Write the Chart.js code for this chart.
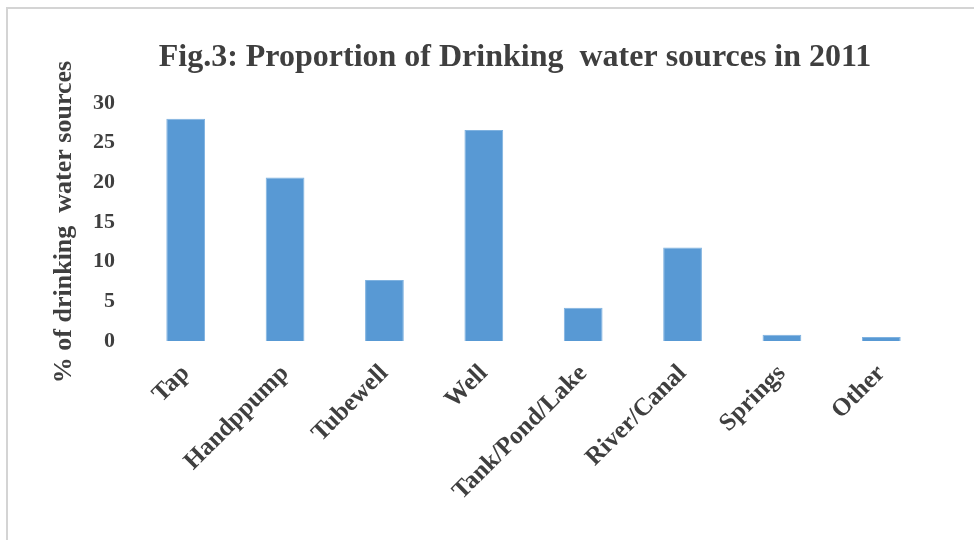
<!DOCTYPE html>
<html lang="en">
<head>
    <meta charset="UTF-8">
    <title>Fig.3 - Drinking water sources</title>
    <script src="https://cdn.jsdelivr.net/npm/chart.js"></script>
    <style>
        body {
            margin: 0;
            padding: 0;
            background-color: #fff;
        }

        .frame {
            position: absolute;
            left: 6px;
            top: 7px;
            width: 968px;
            height: 533px;
            border-top: 2px solid #d4d4d4;
            border-left: 2px solid #d4d4d4;
        }

        .chart-wrapper {
            position: absolute;
            left: 0;
            top: 0;
            width: 974px;
            height: 540px;
        }
    </style>
</head>
<body>
    <div class="frame"></div>
    <div class="chart-wrapper">
        <canvas id="main-chart"></canvas>
    </div>

    <script>
        // Dados do gráfico
        const categories = ['Tap', 'Handppump', 'Tubewell', 'Well', 'Tank/Pond/Lake', 'River/Canal', 'Springs', 'Other'];
        const shares = [28.0, 20.6, 7.7, 26.6, 4.2, 11.8, 0.8, 0.5];
        const yTicks = [0, 5, 10, 15, 20, 25, 30];
        const chartTitle = 'Fig.3: Proportion of Drinking  water sources in 2011';

        const textColor = '#3f3f3f';
        const serif = "'Liberation Serif', 'DejaVu Serif', serif";

        // Título desenhado à mão (fica um pouco à esquerda do centro, como no original)
        const titlePlugin = {
            id: 'figTitle',
            afterDraw(chart) {
                const c = chart.ctx;
                c.save();
                c.font = 'bold 32px ' + serif;
                c.fillStyle = textColor;
                c.textAlign = 'center';
                c.textBaseline = 'middle';
                c.fillText(chartTitle, 515, 58);
                c.restore();
            }
        };

        const ctx = document.getElementById('main-chart').getContext('2d');

        new Chart(ctx, {
            type: 'bar',
            data: {
                labels: categories,
                datasets: [{
                    data: shares,
                    backgroundColor: '#5899d4',
                    borderColor: '#7fb2e0',
                    borderWidth: 1,
                    barPercentage: 0.39,
                    categoryPercentage: 1
                }]
            },
            plugins: [titlePlugin],
            options: {
                responsive: true,
                maintainAspectRatio: false,
                animation: false,
                layout: {
                    padding: { left: 20, right: 43, top: 103, bottom: 0 }
                },
                plugins: {
                    legend: { display: false },
                    tooltip: { enabled: false },
                    title: { display: false }
                },
                scales: {
                    x: {
                        grid: { display: false, drawTicks: false },
                        border: { display: false },
                        ticks: {
                            color: textColor,
                            font: { family: serif, size: 25, weight: 'bold' },
                            maxRotation: 45,
                            minRotation: 45,
                            padding: 18
                        },
                        afterFit: function(scale) {
                            scale.height = 199;
                        }
                    },
                    y: {
                        min: 0,
                        max: 30,
                        grid: { display: false, drawTicks: false },
                        border: { display: false },
                        afterBuildTicks: function(scale) {
                            scale.ticks = yTicks.map(v => ({ value: v }));
                        },
                        ticks: {
                            color: textColor,
                            font: { family: serif, size: 22, weight: 'bold' },
                            padding: 21
                        },
                        title: {
                            display: true,
                            text: '% of drinking  water sources',
                            color: textColor,
                            font: { family: serif, size: 26, weight: 'bold' },
                            padding: { top: 29, bottom: 0 }
                        },
                        afterFit: function(scale) {
                            scale.width = 116;
                        }
                    }
                }
            }
        });
    </script>
</body>
</html>
